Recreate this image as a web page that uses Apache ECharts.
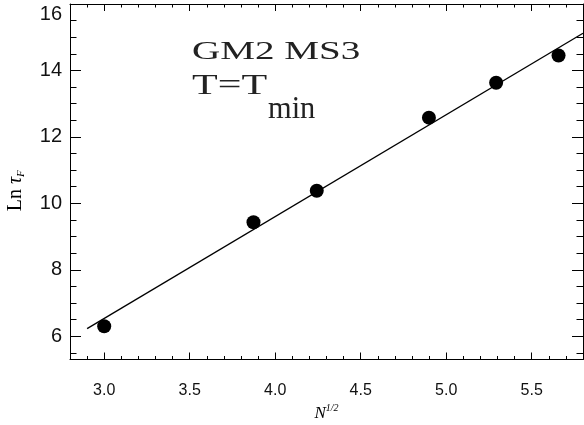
<!DOCTYPE html>
<html><head><meta charset="utf-8">
<script src="https://cdn.jsdelivr.net/npm/echarts@6/dist/echarts.min.js"></script>
<style>html,body{margin:0;padding:0;background:#fff}#c{width:584px;height:425px}</style>
</head><body><div id="c"></div>
<script>
// data
const sqrtN = [3.0, 3.873, 4.243, 4.899, 5.292, 5.657];
const lnTau = [6.30, 9.43, 10.38, 12.58, 13.63, 14.45];
const fitX = [2.90, 5.80];
const fitY = [6.23, 15.12];
// ticks
const xMajor = [3.0, 3.5, 4.0, 4.5, 5.0, 5.5];
const xMinor = [2.9, 3.0, 3.1, 3.2, 3.3, 3.4, 3.5, 3.6, 3.7, 3.8, 3.9, 4.0, 4.1, 4.2, 4.3, 4.4, 4.5, 4.6, 4.7, 4.8, 4.9, 5.0, 5.1, 5.2, 5.3, 5.4, 5.5, 5.6, 5.7];
const yMajor = [6, 8, 10, 12, 14, 16];
const yMinor = [5.5, 6, 6.5, 7, 7.5, 8, 8.5, 9, 9.5, 10, 10.5, 11, 11.5, 12, 12.5, 13, 13.5, 14, 14.5, 15, 15.5];
const xRange = [2.8, 5.8];
const yRange = [5.3, 16];

const chart = echarts.init(document.getElementById('c'), null, {renderer: 'canvas'});
const lineStyle = {color: '#000', width: 1};
const gridBox = {left: 70, right: 1, top: 4, bottom: 65.5, show: false, containLabel: false, outerBoundsMode: 'none'};

function xAx(grid, pos, major, withLabels) {
  return {
    gridIndex: grid, type: 'value', position: pos, min: xRange[0], max: xRange[1],
    axisLine: {show: major, onZero: false, lineStyle},
    axisTick: {show: true, inside: true, length: major ? 7 : 3.5, customValues: major ? xMajor : xMinor, lineStyle},
    axisLabel: withLabels ? {show: true, customValues: xMajor, formatter: v => v.toFixed(1), margin: 23,
      fontSize: 16, color: '#111', fontFamily: 'Liberation Sans'} : {show: false},
    splitLine: {show: false}
  };
}
function yAx(grid, pos, major, withLabels) {
  return {
    gridIndex: grid, type: 'value', position: pos, min: yRange[0], max: yRange[1],
    axisLine: {show: major, onZero: false, lineStyle},
    axisTick: {show: true, inside: true, length: major ? 11 : 6.5, customValues: major ? yMajor : yMinor, lineStyle},
    axisLabel: withLabels ? {show: true, customValues: yMajor, formatter: v => String(v), margin: 8,
      fontSize: 20, color: '#111', fontFamily: 'Liberation Sans', verticalAlignMaxLabel: 'top'} : {show: false},
    splitLine: {show: false}
  };
}

const xb = xAx(0, 'bottom', true, true);
xb.name = '{n|N}{s|1/2}';
xb.nameLocation = 'middle';
xb.nameGap = 43;
xb.nameTextStyle = {
  rich: {
    n: {fontFamily: 'Liberation Serif', fontStyle: 'italic', fontSize: 17, color: '#000', lineHeight: 20},
    s: {fontFamily: 'Liberation Serif', fontStyle: 'italic', fontSize: 10, color: '#000', verticalAlign: 'top', lineHeight: 20}
  }
};
const yl = yAx(0, 'left', true, true);
yl.name = '{r|Ln }{t|τ}{f|F}';
yl.nameLocation = 'middle';
yl.nameRotate = 90;
yl.nameGap = 43;
yl.nameTextStyle = {
  padding: [0, 18, 0, 0],
  rich: {
    r: {fontFamily: 'Liberation Serif', fontSize: 20, color: '#000', lineHeight: 22},
    t: {fontFamily: 'Liberation Serif', fontStyle: 'italic', fontSize: 20, color: '#000', lineHeight: 22},
    f: {fontFamily: 'Liberation Serif', fontStyle: 'italic', fontSize: 11, color: '#000', verticalAlign: 'bottom', lineHeight: 22}
  }
};

const option = {
  animation: false,
  backgroundColor: '#fff',
  grid: [Object.assign({}, gridBox), Object.assign({}, gridBox)],
  xAxis: [xb, xAx(0, 'top', true, false), xAx(1, 'bottom', false, false), xAx(1, 'top', false, false)],
  yAxis: [yl, yAx(0, 'right', true, false), yAx(1, 'left', false, false), yAx(1, 'right', false, false)],
  graphic: [
    {type: 'text', x: 192, y: 52.5, scaleX: 1.7, scaleY: 1.05, style: {text: 'GM2 MS3', fontFamily: 'Liberation Serif', fontSize: 23, fill: '#222', align: 'left', verticalAlign: 'middle'}},
    {type: 'text', x: 192, y: 86, scaleX: 1.45, style: {text: 'T=T', fontFamily: 'Liberation Serif', fontSize: 29, fill: '#222', align: 'left', verticalAlign: 'middle'}},
    {type: 'text', x: 268, y: 109.2, scaleX: 0.95, style: {text: 'min', fontFamily: 'Liberation Serif', fontSize: 32, fill: '#222', align: 'left', verticalAlign: 'middle'}}
  ],
  series: [
    {type: 'line', xAxisIndex: 0, yAxisIndex: 0, data: fitX.map((x, i) => [x, fitY[i]]), showSymbol: false, symbol: 'none',
      lineStyle: {color: '#000', width: 1.3}, silent: true, z: 2},
    {type: 'scatter', xAxisIndex: 0, yAxisIndex: 0, data: sqrtN.map((x, i) => [x, lnTau[i]]), symbol: 'circle', symbolSize: 14,
      itemStyle: {color: '#000', opacity: 1}, z: 3}
  ]
};
chart.setOption(option);
</script>
</body></html>
